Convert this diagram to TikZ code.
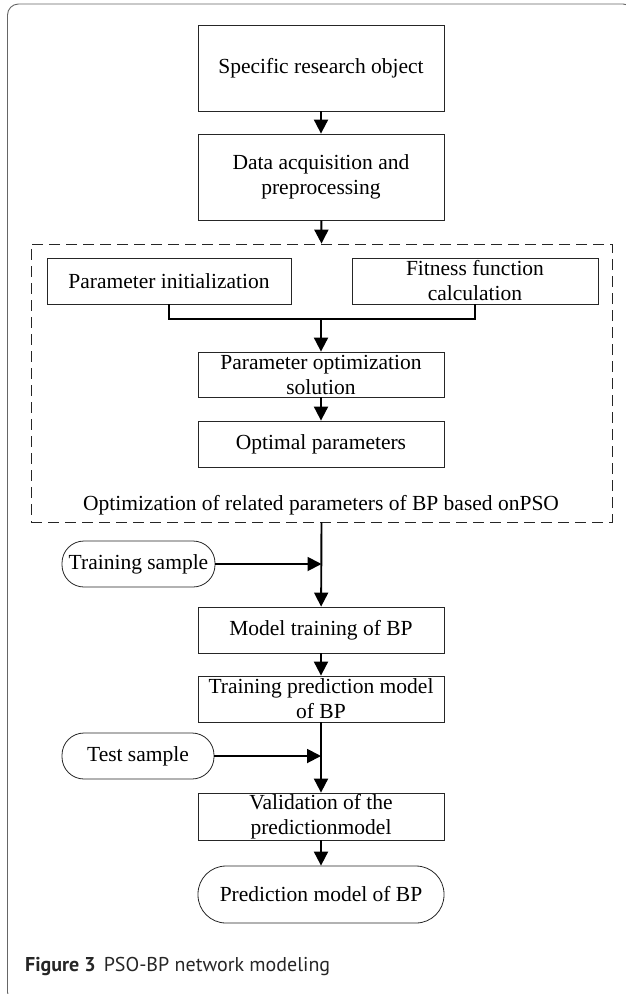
\documentclass[tikz,border=0pt]{standalone}
\usepackage{fontspec}
\setmainfont{Liberation Serif}
\newfontfamily\capfont{PT Sans}
\usetikzlibrary{arrows.meta,positioning,calc}

\tikzset{
  box/.style={draw=black!85, line width=0.8pt, minimum width=246pt, minimum height=46pt,
    align=center, inner sep=1pt, font=\fontsize{21.5}{25}\selectfont},
  pill/.style={box, rounded corners=22pt},
  link/.style={line width=1.9pt, -{Triangle[length=14pt,width=14pt]}},
  plain/.style={line width=1.9pt},
  group/.style={draw=black!85, line width=0.8pt, dash pattern=on 11pt off 6pt}
}

\begin{document}
\begin{tikzpicture}[x=1pt,y=-1pt]
\useasboundingbox (0,0) rectangle (625,994);

% outer figure frame (right and bottom run off the page)
\draw[black!60, line width=0.9pt, rounded corners=11pt] (7.5,4) rectangle (634,1003);

% main flow
\node[box, minimum height=86pt] (obj) at (321,68) {Specific research object};
\node[box, minimum height=86pt] (data) at (321,177) {Data acquisition and\\preprocessing};

% dashed PSO group
\node[group, minimum width=581pt, minimum height=278pt] (grp) at (321.5,383) {};
\node[box, minimum width=244pt] (init) at (169,281) {Parameter initialization};
\node[box] (fit) at (475,281) {Fitness function\\calculation};
\node[box, minimum height=45pt] (solve) at (321,374.5) {Parameter optimization\\solution};
\node[box] (best) at (321,444) {Optimal parameters};
\node[font=\fontsize{21.5}{25}\selectfont] (grplab) at (321,505) {Optimization of related parameters of BP based onPSO};
\coordinate (merge) at (321,319);

% training and validation
\node[pill, minimum width=153pt] (train) at (138.5,564) {Training sample};
\node[box] (mtrain) at (321,630) {Model training of BP};
\node[box] (tpred) at (321,699) {Training prediction model\\of BP};
\node[pill, minimum width=152pt] (test) at (138,756) {Test sample};
\node[box, minimum height=47pt] (valid) at (321,816.5) {Validation of the\\predictionmodel};
\node[box, minimum height=57pt, rounded corners=28pt] (final) at (321,894.5) {Prediction model of BP};

% connectors
\draw[link] (obj) -- (data);
\draw[link] (data) -- (grp.north);
\draw[plain] (init.south) -- (init.south |- merge) -- (fit.south |- merge) -- (fit.south);
\draw[link] (merge) -- (solve);
\draw[link] (solve) -- (best);
\draw[link] (grp.south) -- (mtrain);
\draw[link] (train.east) -- (train.east -| grp.south);
\draw[link] (mtrain) -- (tpred);
\draw[link] (tpred) -- (valid);
\draw[link] (test.east) -- (test.east -| valid.north);
\draw[link] (valid) -- (final);

% caption
\node[anchor=west, inner sep=0pt, font=\capfont\fontsize{20}{23}\selectfont, text=black!85] (cap) at (25,966)
  {\textbf{Figure 3}\hspace{8pt}PSO-BP network modeling};
\end{tikzpicture}
\end{document}
